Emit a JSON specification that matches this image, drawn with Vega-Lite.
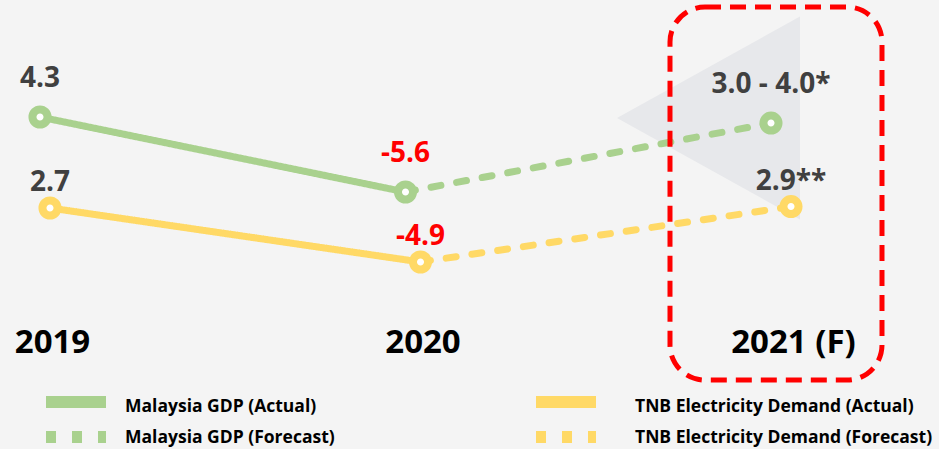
{
  "$schema": "https://vega.github.io/schema/vega-lite/v6.json",
  "width": 939,
  "height": 320,
  "padding": 0,
  "background": "#f4f4f4",
  "config": {"view": {"stroke": null}, "font": "Open Sans"},
  "datasets": {
    "gdp": [
      {"series": "Malaysia GDP (Actual)", "year": 2019, "value": 4.3},
      {"series": "Malaysia GDP (Actual)", "year": 2020, "value": -5.6},
      {"series": "Malaysia GDP (Forecast)", "year": 2020, "value": -5.6},
      {"series": "Malaysia GDP (Forecast)", "year": 2021, "value": 3.5}
    ],
    "gdpPoints": [
      {"year": 2019, "value": 4.3, "label": "4.3"},
      {"year": 2020, "value": -5.6, "label": "-5.6"},
      {"year": 2021, "value": 3.5, "label": "3.0 - 4.0*"}
    ],
    "tnb": [
      {"series": "TNB Electricity Demand (Actual)", "year": 2019, "value": 2.7},
      {"series": "TNB Electricity Demand (Actual)", "year": 2020, "value": -4.9},
      {"series": "TNB Electricity Demand (Forecast)", "year": 2020, "value": -4.9},
      {"series": "TNB Electricity Demand (Forecast)", "year": 2021, "value": 2.9}
    ],
    "tnbPoints": [
      {"year": 2019, "value": 2.7, "label": "2.7"},
      {"year": 2020, "value": -4.9, "label": "-4.9"},
      {"year": 2021, "value": 2.9, "label": "2.9**"}
    ],
    "shade": [{"year": 2020.7773, "value": 4.17}],
    "focus": [{"start": 2020.6734, "end": 2021.2456, "top": 18.82, "bottom": -30.42}]
  },
  "resolve": {"scale": {"x": "independent", "y": "independent"}},
  "layer": [
    {
      "data": {"name": "shade"},
      "mark": {"type": "point", "shape": "M1,-1.11L1,1.11L-1,0Z", "size": 33489, "filled": true, "color": "#e7e8eb", "opacity": 1, "strokeWidth": 0},
      "encoding": {
        "x": {"field": "year", "type": "quantitative", "scale": {"domain": [2018.86505, 2021.39946], "nice": false, "zero": false}, "axis": null},
        "y": {"field": "value", "type": "quantitative", "scale": {"domain": [-22.495, 19.745], "nice": false, "zero": false}, "axis": null}
      }
    },
    {
      "encoding": {
        "x": {"field": "year", "type": "quantitative", "scale": {"domain": [2018.89056, 2021.45964], "nice": false, "zero": false}, "axis": null},
        "y": {"field": "value", "type": "quantitative", "scale": {"domain": [-22.495, 19.745], "nice": false, "zero": false}, "axis": null}
      },
      "layer": [
        {
          "data": {"name": "gdp"},
          "mark": {"type": "line", "strokeWidth": 7, "strokeCap": "round"},
          "encoding": {
            "detail": {"field": "series"},
            "color": {
              "field": "series", "type": "nominal",
              "scale": {
                "domain": ["Malaysia GDP (Actual)", "Malaysia GDP (Forecast)", "TNB Electricity Demand (Actual)", "TNB Electricity Demand (Forecast)"],
                "range": ["#a9d18e", "#a9d18e", "#ffd966", "#ffd966"]
              },
              "legend": {
                "orient": "none", "legendX": 64, "legendY": 391, "columns": 2, "title": null,
                "symbolType": "M-5.8,0L6.2,0", "symbolSize": 100, "symbolStrokeWidth": 12,
                "labelFont": "Open Sans", "labelFontSize": 17.5, "labelFontWeight": "bold", "labelColor": "#000000",
                "labelOffset": 39, "columnPadding": 177, "rowPadding": -20, "labelLimit": 400,
                "encode": {
                  "symbols": {"update": {"strokeDash": {"signal": "indexof(datum.value, 'Forecast') >= 0 ? [12, 12] : [1, 0]"}, "strokeCap": {"value": "butt"}}},
                  "labels": {"update": {"dx": {"signal": "indexof(datum.value, 'TNB') >= 0 ? 20 : 0"}, "dy": {"signal": "indexof(datum.value, 'Actual') >= 0 ? 5 : 1"}}}
                }
              }
            },
            "strokeDash": {
              "field": "series", "type": "nominal",
              "scale": {
                "domain": ["Malaysia GDP (Actual)", "Malaysia GDP (Forecast)", "TNB Electricity Demand (Actual)", "TNB Electricity Demand (Forecast)"],
                "range": [[1, 0], [10, 16], [1, 0], [10, 16]]
              },
              "legend": null
            }
          }
        },
        {
          "data": {"name": "gdpPoints"},
          "mark": {"type": "point", "shape": "circle", "filled": false, "fill": "#ffffff", "fillOpacity": 1, "stroke": "#a9d18e", "strokeWidth": 8, "size": 227, "opacity": 1}
        },
        {
          "data": {"name": "gdpPoints"},
          "mark": {"type": "text", "dy": -38, "fontSize": 28, "fontWeight": "bold", "font": "Open Sans"},
          "encoding": {
            "text": {"field": "label"},
            "color": {"condition": {"test": "datum.value < 0", "value": "#ff0000"}, "value": "#404040"}
          }
        }
      ]
    },
    {
      "encoding": {
        "x": {
          "field": "year", "type": "quantitative",
          "scale": {"domain": [2018.86505, 2021.39946], "nice": false, "zero": false},
          "axis": {
            "values": [2019, 2020, 2021], "title": null, "domain": false, "ticks": false, "grid": false,
            "labelExpr": "datum.value == 2021 ? '2021 (F)' : '' + datum.value",
            "labelFont": "Open Sans", "labelFontSize": 33, "labelFontWeight": "bold", "labelColor": "#000000",
            "labelPadding": 6, "labelOffset": 2, "labelFlush": false, "labelOverlap": false
          }
        },
        "y": {"field": "value", "type": "quantitative", "scale": {"domain": [-13.064, 31.974], "nice": false, "zero": false}, "axis": null}
      },
      "layer": [
        {
          "data": {"name": "tnb"},
          "mark": {"type": "line", "strokeWidth": 7, "strokeCap": "round"},
          "encoding": {
            "detail": {"field": "series"},
            "color": {
              "field": "series", "type": "nominal",
              "scale": {
                "domain": ["Malaysia GDP (Actual)", "Malaysia GDP (Forecast)", "TNB Electricity Demand (Actual)", "TNB Electricity Demand (Forecast)"],
                "range": ["#a9d18e", "#a9d18e", "#ffd966", "#ffd966"]
              }
            },
            "strokeDash": {
              "field": "series", "type": "nominal",
              "scale": {
                "domain": ["Malaysia GDP (Actual)", "Malaysia GDP (Forecast)", "TNB Electricity Demand (Actual)", "TNB Electricity Demand (Forecast)"],
                "range": [[1, 0], [10, 16], [1, 0], [10, 16]]
              },
              "legend": null
            }
          }
        },
        {
          "data": {"name": "tnbPoints"},
          "mark": {"type": "point", "shape": "circle", "filled": false, "fill": "#ffffff", "fillOpacity": 1, "stroke": "#ffd966", "strokeWidth": 8, "size": 227, "opacity": 1}
        },
        {
          "data": {"name": "tnbPoints"},
          "mark": {"type": "text", "dy": -25, "fontSize": 28, "fontWeight": "bold", "font": "Open Sans"},
          "encoding": {
            "text": {"field": "label"},
            "color": {"condition": {"test": "datum.value < 0", "value": "#ff0000"}, "value": "#404040"}
          }
        }
      ]
    },
    {
      "data": {"name": "focus"},
      "mark": {"type": "rect", "fill": null, "fillOpacity": 0, "stroke": "#ff0000", "strokeWidth": 5, "strokeDash": [16, 9], "cornerRadius": 35},
      "encoding": {
        "x": {"field": "start", "type": "quantitative", "scale": {"domain": [2018.86505, 2021.39946], "nice": false, "zero": false}, "axis": null},
        "x2": {"field": "end"},
        "y": {"field": "top", "type": "quantitative", "scale": {"domain": [-22.495, 19.745], "nice": false, "zero": false}, "axis": null},
        "y2": {"field": "bottom"}
      }
    }
  ]
}
